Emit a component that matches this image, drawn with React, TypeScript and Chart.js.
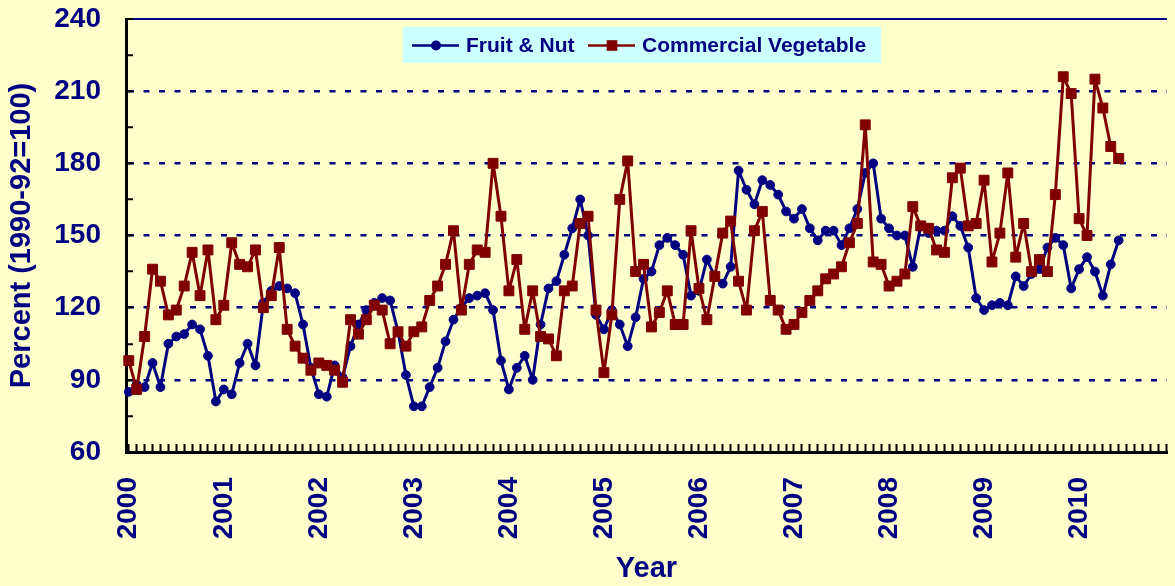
import React, { useEffect, useRef } from 'react';
import { Chart, registerables } from 'chart.js';

Chart.register(...registerables);

// Monthly index values, Jan 2000 – Jun 2010
const fruitNut: number[] = [
  85, 88, 87, 97, 87, 105, 108, 109, 113, 111, 100, 81,
  86, 84, 97, 105, 96, 122, 127, 129, 128, 126, 113, 95,
  84, 83, 96, 91, 104, 113, 119, 122, 124, 123, 110, 92,
  79, 79, 87, 95, 106, 115, 120, 124, 125, 126, 119, 98,
  86, 95, 100, 90, 113, 128, 131, 142, 153, 165, 150, 117,
  111, 119, 113, 104, 116, 132, 135, 146, 149, 146, 142, 125,
  127, 140, 133, 130, 137, 177, 169, 163, 173, 171, 167, 160,
  157, 161, 153, 148, 152, 152, 146, 153, 161, 176, 180, 157,
  153, 150, 150, 137, 154, 151, 152, 152, 158, 154, 145, 124,
  119, 121, 122, 121, 133, 129, 134, 136, 145, 149, 146, 128,
  136, 141, 135, 125, 138, 148,
];

const commercialVegetable: number[] = [
  98, 86, 108, 136, 131, 117, 119, 129, 143, 125, 144, 115,
  121, 147, 138, 137, 144, 120, 125, 145, 111, 104, 99, 94,
  97, 96, 94, 89, 115, 109, 115, 121, 119, 105, 110, 104,
  110, 112, 123, 129, 138, 152, 119, 138, 144, 143, 180, 158,
  127, 140, 111, 127, 108, 107, 100, 127, 129, 155, 158, 119,
  93, 117, 165, 181, 135, 138, 112, 118, 127, 113, 113, 152,
  128, 115, 133, 151, 156, 131, 119, 152, 160, 123, 119, 111,
  113, 118, 123, 127, 132, 134, 137, 147, 155, 196, 139, 138,
  129, 131, 134, 162, 154, 153, 144, 143, 174, 178, 154, 155,
  173, 139, 151, 176, 141, 155, 135, 140, 135, 167, 216, 209,
  157, 150, 215, 203, 187, 182,
];

const yearLabels: string[] = [
  '2000', '2001', '2002', '2003', '2004', '2005',
  '2006', '2007', '2008', '2009', '2010',
];

const seriesNames: string[] = ['Fruit & Nut', 'Commercial Vegetable'];
const yAxisTitle = 'Percent (1990-92=100)';
const xAxisTitle = 'Year';

const NAVY = '#000080';
const MAROON = '#800000';
const BG = '#FFFFCC';
const LEGEND_BG = '#CCFFFF';
const FONT = "'Liberation Sans', Arial, Helvetica, sans-serif";

Chart.defaults.font.family = FONT;

const legendPlugin = {
  id: 'boxLegend',
  afterDraw(chart: any) {
    const ctx: CanvasRenderingContext2D = chart.ctx;
    ctx.save();
    ctx.fillStyle = LEGEND_BG;
    ctx.fillRect(403, 27, 478, 36);
    const y = 45.5;
    const items = [
      { x: 412, color: NAVY, style: 'circle', text: seriesNames[0] },
      { x: 588, color: MAROON, style: 'rect', text: seriesNames[1] },
    ];
    for (const it of items) {
      ctx.strokeStyle = it.color;
      ctx.lineWidth = 2.5;
      ctx.beginPath();
      ctx.moveTo(it.x, y);
      ctx.lineTo(it.x + 47, y);
      ctx.stroke();
      ctx.fillStyle = it.color;
      if (it.style === 'circle') {
        ctx.beginPath();
        ctx.arc(it.x + 24, y, 5, 0, Math.PI * 2);
        ctx.fill();
      } else {
        ctx.fillRect(it.x + 24 - 5.3, y - 5.3, 10.6, 10.6);
      }
      ctx.fillStyle = NAVY;
      ctx.font = `bold 21px ${FONT}`;
      ctx.textBaseline = 'middle';
      ctx.textAlign = 'left';
      ctx.fillText(it.text, it.x + 54, y + 1);
    }
    ctx.restore();
  },
};

const zeroPadding = (s: any) => {
  s.paddingTop = 0;
  s.paddingBottom = 0;
  s.paddingLeft = 0;
  s.paddingRight = 0;
};

export default function App() {
  const ref = useRef<HTMLCanvasElement>(null);

  useEffect(() => {
    const canvas = ref.current;
    if (!canvas) return;
    const toPoints = (arr: number[]) => arr.map((v, i) => ({ x: i, y: v }));

    const chart = new Chart(canvas, {
      type: 'line',
      data: {
        datasets: [
          {
            label: seriesNames[1],
            data: toPoints(commercialVegetable),
            borderColor: MAROON,
            backgroundColor: MAROON,
            borderWidth: 3,
            borderJoinStyle: 'round',
            pointStyle: 'rect',
            pointRadius: 7,
            pointBorderWidth: 1,
            pointBackgroundColor: MAROON,
            pointBorderColor: MAROON,
            tension: 0,
            clip: false,
            order: 0,
          } as any,
          {
            label: seriesNames[0],
            data: toPoints(fruitNut),
            borderColor: NAVY,
            backgroundColor: NAVY,
            borderWidth: 3,
            borderJoinStyle: 'round',
            pointStyle: 'circle',
            pointRadius: 4.4,
            pointBorderWidth: 1,
            pointBackgroundColor: NAVY,
            pointBorderColor: NAVY,
            tension: 0,
            clip: false,
            order: 1,
          } as any,
        ],
      },
      options: {
        responsive: false,
        animation: false,
        events: [],
        layout: { padding: { top: 19, left: 0, right: 0, bottom: 0 } },
        plugins: {
          legend: { display: false },
          tooltip: { enabled: false },
          title: { display: false },
        },
        scales: {
          x: {
            type: 'linear',
            min: -0.35,
            max: 131.1,
            afterFit: (s: any) => {
              s.height = 134;
              zeroPadding(s);
            },
            ticks: {
              stepSize: 1,
              autoSkip: false,
              includeBounds: false,
              minRotation: 90,
              maxRotation: 90,
              padding: 33,
              color: NAVY,
              font: { size: 28, weight: 'bold' },
              callback: (v: any) => {
                const n = Number(v);
                return n % 12 === 0 ? yearLabels[n / 12] ?? '' : '';
              },
            },
            grid: {
              drawOnChartArea: false,
              drawTicks: true,
              tickLength: -8,
              tickColor: '#000000',
              tickWidth: 2,
            },
            border: { display: true, color: '#000000', width: 3 },
            title: {
              display: true,
              text: xAxisTitle,
              color: NAVY,
              font: { size: 29, weight: 'bold' },
              padding: { top: 0, bottom: 0 },
            },
          } as any,
          y: {
            min: 60,
            max: 240,
            afterFit: (s: any) => {
              s.width = 126;
              zeroPadding(s);
            },
            ticks: {
              stepSize: 15,
              autoSkip: false,
              padding: 32,
              color: NAVY,
              font: { size: 28, weight: 'bold' },
              callback: (v: any) => (Number(v) % 30 === 0 ? String(v) : ''),
            },
            grid: {
              color: (c: any) => {
                const v = c.tick ? c.tick.value : 0;
                return v % 30 === 0 && v > 60 ? NAVY : 'rgba(0,0,0,0)';
              },
              lineWidth: (c: any) => (c.tick && c.tick.value === 240 ? 2 : 2.5),
              drawTicks: true,
              tickLength: -7,
              tickColor: '#000000',
              tickWidth: 2,
            },
            border: {
              display: true,
              color: '#000000',
              width: 3,
              dash: (c: any) => (c.tick && c.tick.value === 240 ? [] : [6, 9.5]),
            },
            title: {
              display: true,
              text: yAxisTitle,
              color: NAVY,
              font: { size: 29, weight: 'bold' },
              padding: { top: 5, bottom: 0 },
            },
          } as any,
        },
      },
      plugins: [legendPlugin],
    });

    return () => chart.destroy();
  }, []);

  return (
    <div
      style={{
        position: 'fixed',
        left: 0,
        top: 0,
        width: 1175,
        height: 586,
        background: BG,
      }}
    >
      <canvas ref={ref} width={1175} height={586} style={{ display: 'block' }} />
    </div>
  );
}
